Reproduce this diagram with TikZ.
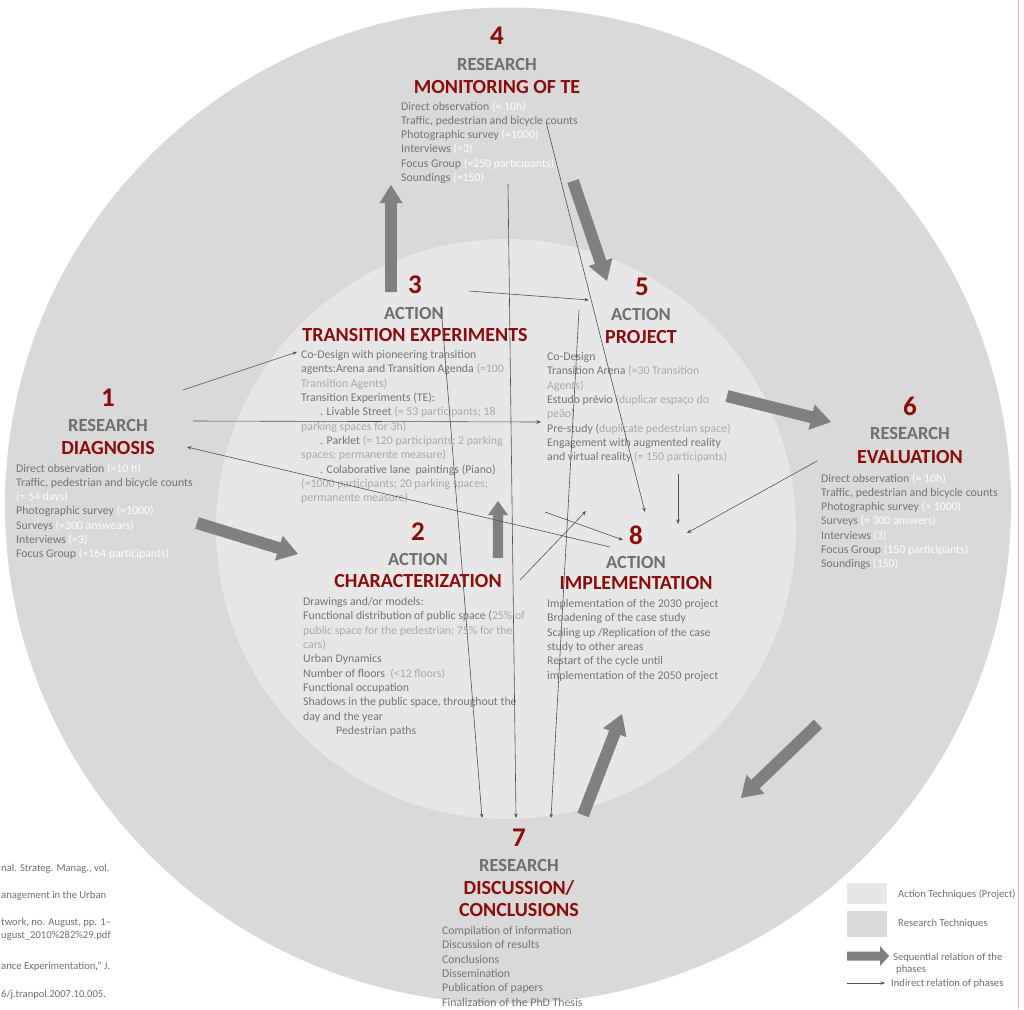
\documentclass[tikz,border=0pt]{standalone}
\usepackage{fontspec}
\setmainfont{Carlito}
\usetikzlibrary{arrows.meta,calc}
\definecolor{outerg}{HTML}{D9D9D9}
\definecolor{innerg}{HTML}{E7E7E7}
\definecolor{darkred}{HTML}{8B0A0A}
\definecolor{headg}{HTML}{6F6F6F}
\definecolor{bodyg}{HTML}{747474}
\definecolor{lightg}{HTML}{A8A8A8}
\definecolor{arrowg}{HTML}{808080}
\definecolor{thing}{HTML}{505050}
\definecolor{pinkl}{HTML}{F2A7A7}
\newcommand\parW[1]{\textcolor{white}{#1}}
\newcommand\parL[1]{\textcolor{lightg}{#1}}
% fat block arrow: #1 start, #2 tip, #3 half shaft, #4 half head, #5 head length
\newcommand\fatarr[5]{%
  \coordinate (fb) at ($(#2)!#5!(#1)$);
  \fill[arrowg] ($(#1)!#3!90:(#2)$) -- ($(fb)!#3!90:(#2)$) -- ($(fb)!#4!90:(#2)$) -- (#2)
    -- ($(fb)!#4!-90:(#2)$) -- ($(fb)!#3!-90:(#2)$) -- ($(#1)!#3!-90:(#2)$) -- cycle;}
\begin{document}
\begin{tikzpicture}[x=1pt,y=-1pt,
  num/.style={font=\fontsize{27}{27}\selectfont\bfseries, text=darkred, inner sep=0pt},
  kind/.style={font=\fontsize{18.5}{18.5}\selectfont\bfseries, text=headg, inner sep=0pt},
  ttl/.style={font=\fontsize{20}{20}\selectfont\bfseries, text=darkred, inner sep=0pt, align=center},
  body/.style={font=\fontsize{11.8}{14.3}\selectfont, text=bodyg, align=left, anchor=north west, inner sep=0pt},
  leg/.style={font=\fontsize{10.6}{12}\selectfont, text=headg, align=left, anchor=west, inner sep=0pt},
  frag/.style={font=\fontsize{10.6}{12}\selectfont, text=headg, anchor=west, inner sep=0pt},
  thin/.style={draw=thing, line width=0.6pt, -{Stealth[length=4.5pt,width=3.5pt]}}
]
\useasboundingbox (0,0) rectangle (1024,1009);
\fill[white] (0,0) rectangle (1024,1009);
\draw[pinkl, line width=1pt] (1018,0) -- (1018,1009);
\fill[outerg] (508,505.5) ellipse [x radius=503, y radius=498];
\fill[innerg] (506,529) circle [radius=290];

% ---- Phase 4
\node[num]  (n4) at (497,36) {4};
\node[kind] (k4) at (497,64) {RESEARCH};
\node[ttl]  (t4) at (497,87) {MONITORING OF TE};
\node[body] (b4) at (401,101.2) {Direct observation \parW{(= 10h)}\\
Traffic, pedestrian and bicycle counts\\
Photographic survey \parW{(=1000)}\\
Interviews \parW{(=3)}\\
Focus Group \parW{(=250 participants)}\\
Soundings \parW{(=150)}};

% ---- Phase 3
\node[num]  (n3) at (415,285) {3};
\node[kind] (k3) at (414,313) {ACTION};
\node[ttl]  (t3) at (415,335) {TRANSITION EXPERIMENTS};
\node[body] (b3) at (301,350.2) {Co-Design with pioneering transition\\
agents:Arena and Transition Agenda \parL{(=100}\\
\parL{Transition Agents)}\\
Transition Experiments (TE):\\
\hspace*{19pt}. Livable Street \parL{(= 53 participants;\ 18}\\
\parL{parking spaces for 3h)}\\
\hspace*{19pt}. Parklet \parL{(= 120 participants;\ 2 parking}\\
\parL{spaces; permanente measure)}\\
\hspace*{19pt}. Colaborative lane\ \ paintings (Piano)\\
\parL{(=1000 participants;\ 20 parking spaces;}\\
\parL{permanente measure)}};

% ---- Phase 5
\node[num]  (n5) at (642,287) {5};
\node[kind] (k5) at (641,314) {ACTION};
\node[ttl]  (t5) at (641,337) {PROJECT};
\node[body] (b5) at (547,352.2) {Co-Design\\
Transition Arena \parL{(=30 Transition}\\
\parL{Agents)}\\
Estudo prévio \parL{(duplicar espaço do}\\
\parL{peão)}\\
Pre-study (\parL{duplicate pedestrian space)}\\
Engagement with augmented reality\\
and virtual reality \parL{(= 150 participants)}};

% ---- Phase 1
\node[num]  (n1) at (108,398) {1};
\node[kind] (k1) at (108,425) {RESEARCH};
\node[ttl]  (t1) at (108,448) {DIAGNOSIS};
\node[body] (b1) at (16,463.2) {Direct observation \parW{(=10 h)}\\
Traffic, pedestrian and bicycle counts\\
\parW{(= 54 days)}\\
Photographic survey \parW{(=1000)}\\
Surveys \parW{(=300 answears)}\\
Interviews \parW{(=3)}\\
Focus Group \parW{(=164 participants)}};

% ---- Phase 6
\node[num]  (n6) at (910,406) {6};
\node[kind] (k6) at (910,433) {RESEARCH};
\node[ttl]  (t6) at (910,457) {EVALUATION};
\node[body] (b6) at (821,473.2) {Direct observation \parW{(= 10h)}\\
Traffic, pedestrian and bicycle counts\\
Photographic survey \parW{(= 1000)}\\
Surveys \parW{(= 300 answers)}\\
Interviews \parW{(3)}\\
Focus Group \parW{(150 participants)}\\
Soundings \parW{(150)}};

% ---- Phase 2
\node[num]  (n2) at (418,532) {2};
\node[kind] (k2) at (418,559) {ACTION};
\node[ttl]  (t2) at (418,581) {CHARACTERIZATION};
\node[body] (b2) at (303,597.2) {Drawings and/or models:\\
Functional distribution of public space (\parL{25\% of}\\
\parL{public space for the pedestrian;\ 75\% for the}\\
\parL{cars)}\\
Urban Dynamics\\
Number of floors\ \ \parL{(<12 floors)}\\
Functional occupation\\
Shadows in the public space, throughout the\\
day and the year\\
\hspace*{33pt}Pedestrian paths};

% ---- Phase 8
\node[num]  (n8) at (636,535) {8};
\node[kind] (k8) at (636,562) {ACTION};
\node[ttl]  (t8) at (636,583) {IMPLEMENTATION};
\node[body] (b8) at (547,599.2) {Implementation of the 2030 project\\
Broadening of the case study\\
Scaling up /Replication of the case\\
study to other areas\\
Restart of the cycle until\\
implementation of the 2050 project};

% ---- Phase 7
\node[num]  (n7) at (519,838) {7};
\node[kind] (k7) at (519,865) {RESEARCH};
\node[ttl]  (t7a) at (519,888) {DISCUSSION/};
\node[ttl]  (t7b) at (519,910) {CONCLUSIONS};
\node[body] (b7) at (442,926.2) {Compilation of information\\
Discussion of results\\
Conclusions\\
Dissemination\\
Publication of papers\\
Finalization of the PhD Thesis};

% ---- fat arrows (sequential relations)
\coordinate (s12) at (197,523); \coordinate (e12) at (298,554);
\coordinate (s23) at (498,558); \coordinate (e23) at (498,501);
\coordinate (s34) at (391,292); \coordinate (e34) at (391,185);
\coordinate (s45) at (573,181); \coordinate (e45) at (607,281);
\coordinate (s56) at (727,396); \coordinate (e56) at (831,422);
\coordinate (s67) at (818,724); \coordinate (e67) at (741,798);
\coordinate (s78) at (583,815); \coordinate (e78) at (622,714);
\fatarr{s12}{e12}{6pt}{13pt}{20pt}
\fatarr{s23}{e23}{5.2pt}{10pt}{14pt}
\fatarr{s34}{e34}{5.8pt}{11.5pt}{18pt}
\fatarr{s45}{e45}{6pt}{12.5pt}{20pt}
\fatarr{s56}{e56}{6pt}{13pt}{20pt}
\fatarr{s67}{e67}{6pt}{13pt}{20pt}
\fatarr{s78}{e78}{6pt}{12.5pt}{20pt}

% ---- thin arrows (indirect relations)
\coordinate (p1a) at (183,390);  \coordinate (p3a) at (297,352);
\coordinate (p1b) at (193,421);  \coordinate (p5a) at (541,422);
\coordinate (p8a) at (610,547);  \coordinate (p1c) at (187,447);
\coordinate (p3b) at (469,291);  \coordinate (p5b) at (589,300);
\coordinate (p4a) at (546,122);  \coordinate (p8b) at (645,512);
\coordinate (p4b) at (508,184);  \coordinate (p7a) at (516,818);
\coordinate (p3c) at (441,306);  \coordinate (p7b) at (482,818);
\coordinate (p5c) at (579,310);  \coordinate (p7c) at (551,818);
\coordinate (p2a) at (520,580);  \coordinate (p8c) at (586,511);
\coordinate (p2b) at (545,512);  \coordinate (p8d) at (623,540);
\coordinate (p5d) at (678,474);  \coordinate (p8e) at (678,524);
\coordinate (p6a) at (817,461);  \coordinate (p8f) at (687,533);
\draw[thin] (p1a) -- (p3a);
\draw[thin] (p1b) -- (p5a);
\draw[thin] (p8a) -- (p1c);
\draw[thin] (p3b) -- (p5b);
\draw[thin] (p4a) -- (p8b);
\draw[thin] (p4b) -- (p7a);
\draw[thin] (p3c) -- (p7b);
\draw[thin] (p5c) -- (p7c);
\draw[thin] (p2a) -- (p8c);
\draw[thin] (p2b) -- (p8d);
\draw[thin] (p5d) -- (p8e);
\draw[thin] (p6a) -- (p8f);

% ---- legend
\node[fill=innerg, minimum width=40pt, minimum height=21pt, inner sep=0pt, anchor=north west] (lb1) at (847,883) {};
\node[fill=outerg, minimum width=40pt, minimum height=26pt, inner sep=0pt, anchor=north west] (lb2) at (847,911) {};
\node[leg] (lt1) at (898,895) {Action Techniques (Project)};
\node[leg] (lt2) at (898,924) {Research Techniques};
\coordinate (ls) at (847,956); \coordinate (le) at (889,956);
\fatarr{ls}{le}{4.5pt}{10pt}{9pt}
\node[leg] (lt3) at (893,957.5) {Sequential relation of the};
\node[leg] (lt4) at (896,970) {phases};
\coordinate (lts) at (847,983); \coordinate (lte) at (885,983);
\draw[thin] (lts) -- (lte);
\node[leg] (lt5) at (891,984) {Indirect relation of phases};

% ---- cut-off reference fragments (as visible)
\node[frag] (f1) at (1,869) {nal. Strateg. Manag., vol.};
\node[frag] (f2) at (1,896) {anagement in the Urban};
\node[frag] (f3) at (1,923) {twork, no. August, pp. 1–};
\node[frag] (f4) at (1,936) {ugust\_2010\%282\%29.pdf};
\node[frag] (f5) at (1,967) {ance Experimentation,” J.};
\node[frag] (f6) at (1,995) {6/j.tranpol.2007.10.005.};
\end{tikzpicture}
\end{document}
